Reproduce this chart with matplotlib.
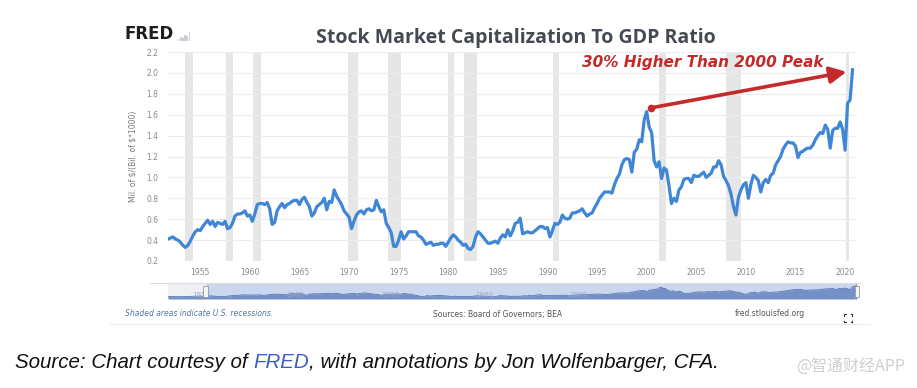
import numpy as np
import pandas as pd
import matplotlib
matplotlib.use("Agg")
from matplotlib import pyplot as plt
from matplotlib.patches import Rectangle
from matplotlib.lines import Line2D

# quarterly values, first point is 1951 Q4
ratio = [
    0.41,
    0.42, 0.43, 0.41, 0.40,  # 1952
    0.38, 0.35, 0.33, 0.35,  # 1953
    0.39, 0.44, 0.48, 0.50,  # 1954
    0.49, 0.53, 0.56, 0.59,  # 1955
    0.55, 0.58, 0.53, 0.57,  # 1956
    0.56, 0.55, 0.58, 0.51,  # 1957
    0.52, 0.56, 0.63, 0.65,  # 1958
    0.65, 0.66, 0.68, 0.63,  # 1959
    0.64, 0.58, 0.65, 0.74,  # 1960
    0.75, 0.75, 0.74, 0.76,  # 1961
    0.70, 0.55, 0.57, 0.68,  # 1962
    0.72, 0.75, 0.71, 0.74,  # 1963
    0.75, 0.77, 0.78, 0.78,  # 1964
    0.74, 0.79, 0.81, 0.76,  # 1965
    0.72, 0.63, 0.66, 0.72,  # 1966
    0.74, 0.76, 0.80, 0.69,  # 1967
    0.77, 0.76, 0.88, 0.82,  # 1968
    0.78, 0.74, 0.68, 0.65,  # 1969
    0.62, 0.51, 0.58, 0.64,  # 1970
    0.67, 0.68, 0.65, 0.69,  # 1971
    0.70, 0.68, 0.69, 0.78,  # 1972
    0.72, 0.67, 0.69, 0.56,  # 1973
    0.52, 0.47, 0.34, 0.34,  # 1974
    0.40, 0.48, 0.41, 0.44,  # 1975
    0.48, 0.48, 0.48, 0.48,  # 1976
    0.44, 0.43, 0.40, 0.36,  # 1977
    0.37, 0.38, 0.35, 0.36,  # 1978
    0.36, 0.37, 0.37, 0.34,  # 1979
    0.38, 0.42, 0.45, 0.43,  # 1980
    0.40, 0.38, 0.35, 0.36,  # 1981
    0.32, 0.31, 0.34, 0.43,  # 1982
    0.48, 0.46, 0.43, 0.40,  # 1983
    0.37, 0.37, 0.38, 0.39,  # 1984
    0.37, 0.42, 0.45, 0.43,  # 1985
    0.50, 0.44, 0.49, 0.56,  # 1986
    0.57, 0.61, 0.46, 0.47,  # 1987
    0.48, 0.47, 0.47, 0.49,  # 1988
    0.51, 0.53, 0.53, 0.51,  # 1989
    0.52, 0.43, 0.49, 0.56,  # 1990
    0.55, 0.57, 0.64, 0.61,  # 1991
    0.60, 0.61, 0.66, 0.66,  # 1992
    0.67, 0.68, 0.70, 0.66,  # 1993
    0.63, 0.65, 0.66, 0.71,  # 1994
    0.75, 0.80, 0.83, 0.86,  # 1995
    0.86, 0.86, 0.85, 0.93,  # 1996
    0.99, 1.03, 1.12, 1.17,  # 1997
    1.18, 1.17, 1.05, 1.24,  # 1998
    1.27, 1.36, 1.34, 1.55,  # 1999
    1.63, 1.48, 1.43, 1.16,  # 2000
    1.10, 1.15, 0.99, 1.09,  # 2001
    1.07, 0.92, 0.75, 0.80,  # 2002
    0.77, 0.88, 0.91, 0.98,  # 2003
    0.99, 0.99, 0.95, 1.02,  # 2004
    1.01, 1.01, 1.03, 1.05,  # 2005
    1.00, 1.02, 1.04, 1.10,  # 2006
    1.10, 1.16, 1.12, 1.01,  # 2007
    0.97, 0.92, 0.84, 0.72,  # 2008
    0.64, 0.81, 0.88, 0.93,  # 2009
    0.95, 0.80, 0.93, 1.02,  # 2010
    1.00, 0.97, 0.86, 0.95,  # 2011
    0.98, 0.95, 1.02, 1.04,  # 2012
    1.12, 1.16, 1.20, 1.27,  # 2013
    1.31, 1.34, 1.33, 1.33,  # 2014
    1.30, 1.19, 1.24, 1.25,  # 2015
    1.27, 1.28, 1.28, 1.31,  # 2016
    1.36, 1.40, 1.43, 1.42,  # 2017
    1.50, 1.46, 1.28, 1.45,  # 2018
    1.47, 1.47, 1.53, 1.46,  # 2019
    1.26, 1.71, 1.74, 2.03,  # 2020
]
# navigator also shows a few earlier quarters (1947 Q4 - 1951 Q3)
nav_early = [0.36, 0.35, 0.34, 0.34, 0.33, 0.33, 0.34, 0.35, 0.36, 0.37, 0.38, 0.39, 0.40, 0.40, 0.41, 0.41]

recessions = [(1953.5, 1954.3), (1957.6, 1958.3), (1960.3, 1961.1), (1969.9, 1970.9),
              (1973.9, 1975.2), (1980.0, 1980.55), (1981.55, 1982.9), (1990.55, 1991.2),
              (2001.2, 2001.9), (2007.95, 2009.5), (2020.1, 2020.35)]
yticks = [0.2, 0.4, 0.6, 0.8, 1.0, 1.2, 1.4, 1.6, 1.8, 2.0, 2.2]
xticks = [1955, 1960, 1965, 1970, 1975, 1980, 1985, 1990, 1995, 2000, 2005, 2010, 2015, 2020]
nav_labels = ["1950", "1960", "1970", "1980", "1990"]

dates = pd.date_range("1951-10-01", periods=len(ratio), freq="QS")
years = dates.year + (dates.month - 1) / 12.0
nav_dates = pd.date_range("1947-10-01", periods=len(nav_early) + len(ratio), freq="QS")
nav_years = nav_dates.year + (nav_dates.month - 1) / 12.0
nav_vals = nav_early + ratio

W, H = 917, 388
fig = plt.figure(figsize=(W / 100, H / 100), dpi=100)
fig.patch.set_facecolor("white")

def fx(px):
    return px / W

def fy(py):
    return 1 - py / H

ax = fig.add_axes([fx(168), fy(261), fx(857 - 168), (261 - 52) / H])
ax.set_xlim(1951.75, 2021.2)
ax.set_ylim(0.2, 2.2)
for a, b in recessions:
    ax.axvspan(a, b, color="#e6e6e6", lw=0, zorder=0)
for t in yticks:
    ax.axhline(t, color="#ececec", lw=0.8, zorder=0.5)
ax.plot(years, ratio, color="#3f86d6", lw=2.3, solid_joinstyle="round", zorder=3)
for s in ax.spines.values():
    s.set_visible(False)
ax.set_yticks(yticks)
ax.set_yticklabels([f"{t:.1f}" for t in yticks])
ax.set_xticks(xticks)
ax.tick_params(axis="both", length=0, labelsize=5.5, labelcolor="#8a8a8a")
ax.tick_params(axis="y", pad=7)
ax.tick_params(axis="x", pad=5)
ax.set_ylabel("Mil. of \\$/(Bil. of \\$*1000)", fontsize=5.5, color="#7a7a7a", labelpad=6)

# annotation
ax.annotate("", xy=(2020.15, 2.01), xytext=(2000.4, 1.665),
            arrowprops=dict(arrowstyle="-|>,head_length=1.0,head_width=0.5", color="#c42a2a", lw=2.6,
                            shrinkA=0, shrinkB=0), zorder=5)
ax.plot([2000.4], [1.665], "o", color="#c42a2a", ms=4.5, zorder=6)
ax.text(2005.7, 2.10, "30% Higher Than 2000 Peak", ha="center", va="center", fontsize=11,
        fontweight="bold", fontstyle="italic", color="#c42a2a", family="DejaVu Sans")

# navigator
nav = fig.add_axes([fx(168), fy(299), fx(857 - 168), 15 / H])
nav.set_xlim(1947.75, 2020.75)
nav.set_ylim(0.0, 2.1)
nav.axvspan(1947.75, 1951.75, color="#eef0f4", lw=0)
nav.axvspan(1951.75, 2020.75, color="#cbd7ee", lw=0)
nav.fill_between(nav_years, 0, nav_vals, color="#7590c6", lw=0)
nav.plot(nav_years, nav_vals, color="#5878b8", lw=0.6)
nav.set_xticks([])
nav.set_yticks([])
for s in nav.spines.values():
    s.set_visible(False)
for i, lab in enumerate(nav_labels):
    nav.text(1950 + 10 * i + 0.3, 0.55, lab, fontsize=5, color="#9aa6c0", va="center")
for xh in (1951.75, 2020.75):
    nav.add_patch(Rectangle((xh - 0.25, 0.3), 0.5, 1.5, facecolor="#f4f4f4", edgecolor="#999999",
                            lw=0.6, zorder=5, clip_on=False))
fig.add_artist(Line2D([fx(150), fx(860)], [fy(283), fy(283)], color="#dddddd", lw=0.8))

# header
fig.text(fx(125), fy(34), "FRED", fontsize=12, fontweight="heavy", color="#1e1e1e", va="center")
icon = fig.add_axes([fx(177), fy(41), fx(14), 9 / H])
icon_h = [1, 2, 1.5, 3, 2.5, 4]
icon.bar(range(len(icon_h)), icon_h, color="#c9ccd2", width=0.8)
icon.axis("off")
fig.text(fx(516), fy(38), "Stock Market Capitalization To GDP Ratio", ha="center", va="center",
         fontsize=14, fontweight="bold", color="#454a52", family="Open Sans")

# footer
fig.text(fx(125), fy(314), "Shaded areas indicate U.S. recessions.", fontsize=5.5, fontstyle="italic",
         color="#5577aa", va="center")
fig.text(fx(498), fy(314), "Sources: Board of Governors; BEA", fontsize=5.5, color="#555555",
         va="center", ha="center")
fig.text(fx(770), fy(314), "fred.stlouisfed.org", fontsize=5.5, color="#555555", va="center", ha="center")
cx, cy, d, g = 848, 318, 4, 1.5
for sx in (-1, 1):
    for sy in (-1, 1):
        x0, y0 = cx + sx * d, cy + sy * d
        fig.add_artist(Line2D([fx(x0), fx(x0 - sx * g)], [fy(y0), fy(y0)], color="#333333", lw=0.8))
        fig.add_artist(Line2D([fx(x0), fx(x0)], [fy(y0), fy(y0 - sy * g)], color="#333333", lw=0.8))
fig.add_artist(Line2D([fx(110), fx(870)], [fy(324), fy(324)], color="#e6e6e6", lw=0.6))

# caption with blue FRED
renderer = fig.canvas.get_renderer()
cap_style = dict(fontsize=14.8, fontstyle="italic", family="Liberation Sans", va="center")
x = fx(15)
for part, col in [("Source: Chart courtesy of ", "#111111"), ("FRED", "#3a5fcd"),
                  (", with annotations by Jon Wolfenbarger, CFA.", "#111111")]:
    t = fig.text(x, fy(362), part, color=col, **cap_style)
    bb = t.get_window_extent(renderer)
    x += bb.width / W

fig.text(fx(905), fy(367), "@智通财经APP", ha="right", va="center", fontsize=11.5, color="#cfcfcf",
         family=["Noto Sans CJK SC", "DejaVu Sans"])

fig.savefig("out.png", dpi=100)
